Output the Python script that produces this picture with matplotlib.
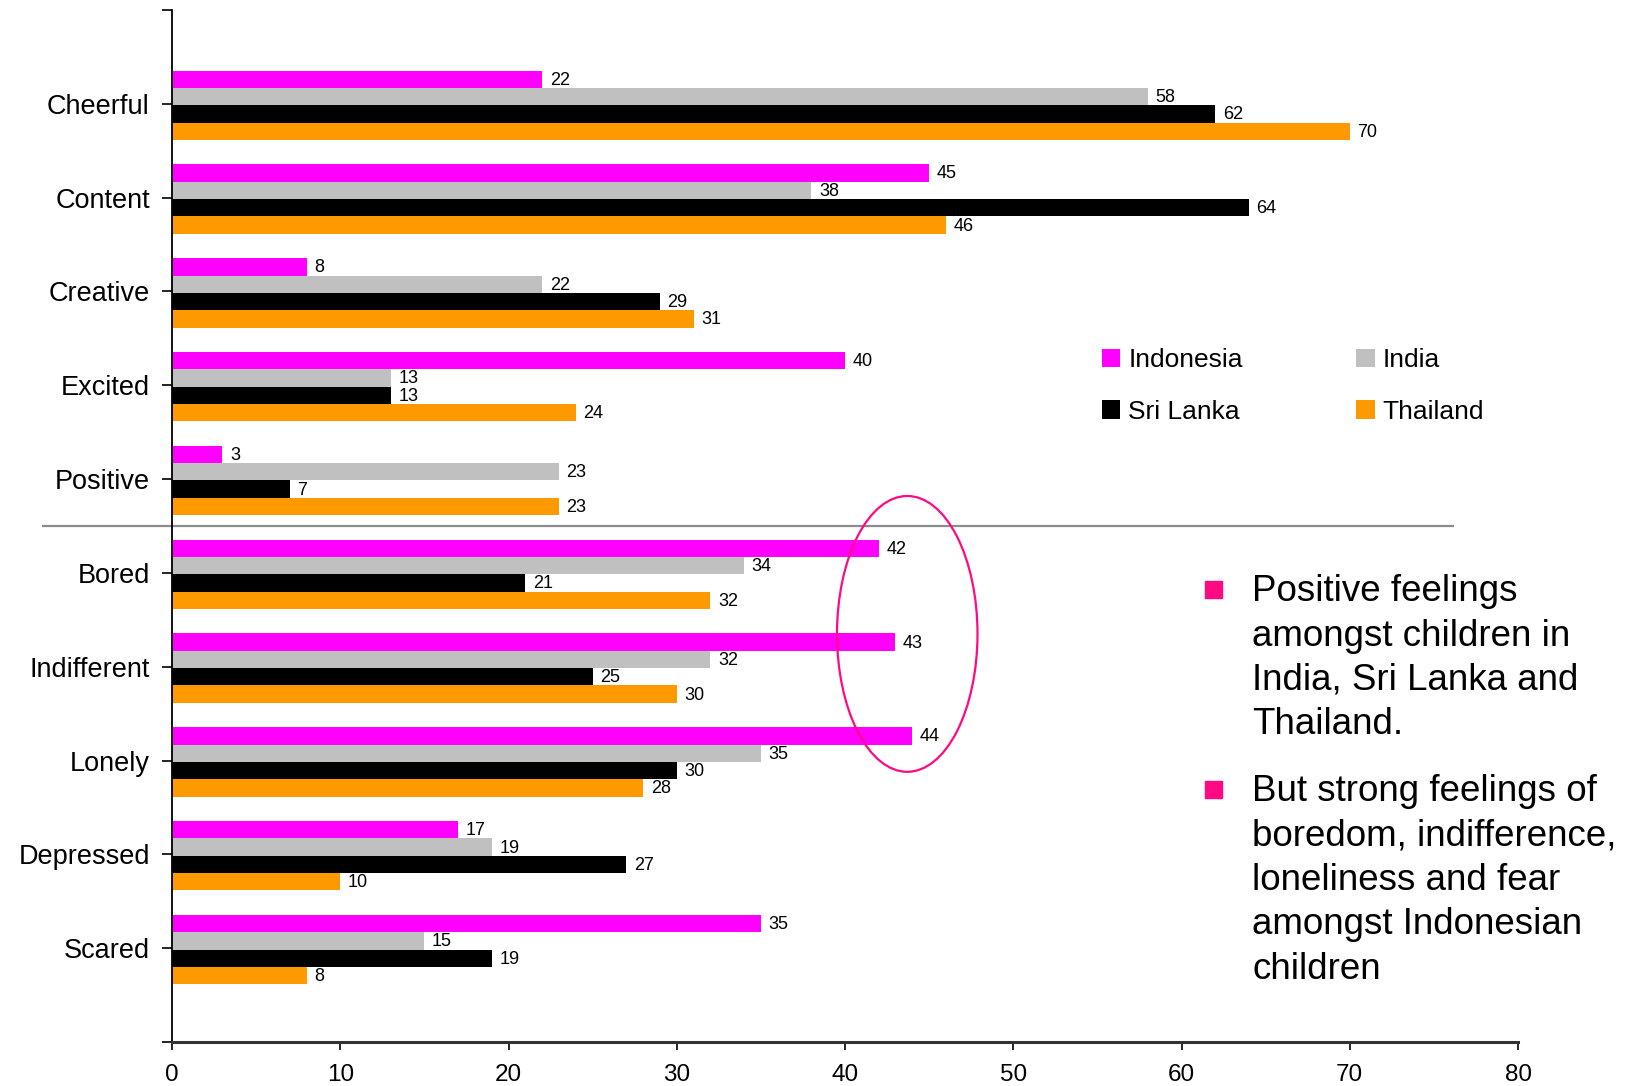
import numpy as np
import matplotlib
matplotlib.use("Agg")
import matplotlib.pyplot as plt
from matplotlib.patches import Ellipse, Rectangle

plt.rcParams["font.family"] = ["Liberation Sans", "DejaVu Sans"]

# feelings, top to bottom
feelings = ["Cheerful", "Content", "Creative", "Excited", "Positive",
            "Bored", "Indifferent", "Lonely", "Depressed", "Scared"]
countries = ["Indonesia", "India", "Sri Lanka", "Thailand"]
indonesia = [22, 45, 8, 40, 3, 42, 43, 44, 17, 35]
india = [58, 38, 22, 13, 23, 34, 32, 35, 19, 15]
sri_lanka = [62, 64, 29, 13, 7, 21, 25, 30, 27, 19]
thailand = [70, 46, 31, 24, 23, 32, 30, 28, 10, 8]
colors = ["#FF00FF", "#C0C0C0", "#000000", "#FF9900"]

x_ticks = [0, 10, 20, 30, 40, 50, 60, 70, 80]

bullets = [
    ["Positive feelings", "amongst children in", "India, Sri Lanka and", "Thailand."],
    ["But strong feelings of", "boredom, indifference,", "loneliness and fear",
     "amongst Indonesian", "children"],
]

W, H = 1627, 1086
fig = plt.figure(figsize=(W / 100, H / 100), dpi=100)
ax = fig.add_axes([172 / W, 1 - 1042 / H, (1518 - 172) / W, (1042 - 10) / H])

pos = np.arange(len(feelings))
h = 0.185
series = [indonesia, india, sri_lanka, thailand]
bars = []
for k, (name, vals, c) in enumerate(zip(countries, series, colors)):
    y = pos + (k - 1.5) * h + 0.015
    b = ax.barh(y, vals, height=h, color=c, label=name, zorder=2)
    bars.append(b)
    for yy, v in zip(y, vals):
        ax.text(v + 0.45, yy + 0.01, str(v), va="center", ha="left", fontsize=13, zorder=3)

ax.set_xlim(0, 80)
ax.set_ylim(10, -1)
ax.set_xticks(x_ticks)
ax.set_xticklabels([str(t) for t in x_ticks], fontsize=17.5)
ax.set_yticks(np.arange(-1, 11))
ax.set_yticklabels([""] + feelings + [""], fontsize=19.5)
ax.tick_params(axis="y", length=7, width=1.2, pad=9, direction="out")
ax.tick_params(axis="x", length=6, width=1.2, pad=10, direction="out")

ax.spines["top"].set_visible(False)
ax.spines["right"].set_visible(False)
ax.spines["left"].set_linewidth(1.3)
ax.spines["bottom"].set_linewidth(2.2)
ax.spines["bottom"].set_color("#333333")

# separator between positive and negative feelings
ax.axhline(4.5, xmin=-0.0958, xmax=0.952, color="#8C8C8C", lw=1.6, clip_on=False, zorder=1)

# highlight ellipse
ax.add_patch(Ellipse((43.7, 5.65), 8.35, 2.94, fill=False, edgecolor="#FF0A82", lw=1.6, zorder=4))

leg = ax.legend([bars[0], bars[2], bars[1], bars[3]],
                [countries[0], countries[2], countries[1], countries[3]],
                ncol=2, frameon=False, fontsize=19,
                loc="upper left", bbox_to_anchor=(1102 / W, 1 - 348 / H),
                bbox_transform=fig.transFigure, borderpad=0, borderaxespad=0,
                handlelength=0.7, handleheight=0.7, handletextpad=0.3,
                columnspacing=4.3, labelspacing=1.05)

# bullet text on the right
para_baselines = [601, 801]
step = 44.5
for lines, y0 in zip(bullets, para_baselines):
    sq_top = y0 - 20
    fig.patches.append(Rectangle((1205 / W, 1 - (sq_top + 17) / H), 17 / W, 17 / H,
                                 transform=fig.transFigure, color="#FF0A82"))
    for i, line in enumerate(lines):
        fig.text(1252 / W, 1 - (y0 + i * step) / H, line, fontsize=26.5,
                 va="baseline", ha="left")

fig.savefig("out.png", dpi=100)
